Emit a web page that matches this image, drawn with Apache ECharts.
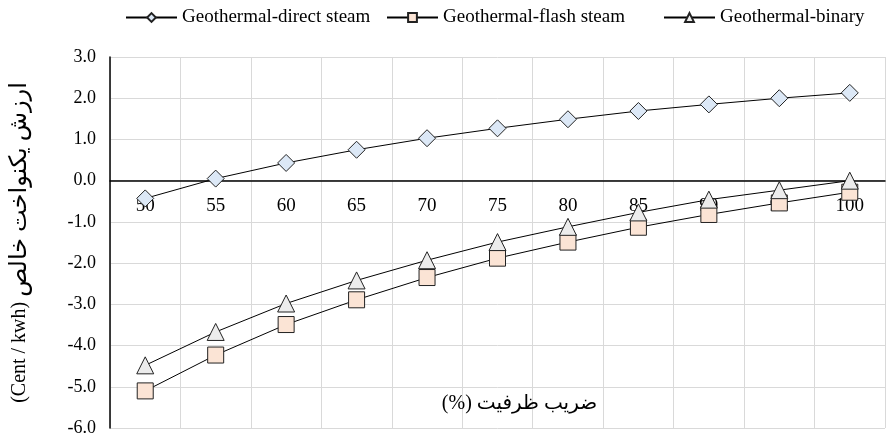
<!DOCTYPE html>
<html>
<head>
<meta charset="utf-8">
<script src="https://cdn.jsdelivr.net/npm/echarts@6/dist/echarts.min.js"></script>
<style>html,body{margin:0;padding:0;background:#fff}#c{width:886px;height:440px}</style>
</head>
<body>
<div id="c"></div>
<script>
var categories = ['50','55','60','65','70','75','80','85','90','95','100'];
var directSteam = [-0.43, 0.05, 0.43, 0.75, 1.03, 1.27, 1.49, 1.69, 1.85, 2.0, 2.13];
var flashSteam = [-5.1, -4.23, -3.49, -2.89, -2.35, -1.88, -1.49, -1.13, -0.82, -0.54, -0.28];
var binary = [-4.48, -3.67, -2.98, -2.42, -1.93, -1.49, -1.12, -0.77, -0.46, -0.23, 0.0];
var seriesNames = ['Geothermal-direct steam','Geothermal-flash steam','Geothermal-binary'];
var yNameLatin = '(Cent / kwh)';
var yNamePersian = 'ارزش یکنواخت خالص';
var xNameLatin = '(%)';
var xNamePersian = 'ضریب ظرفیت';

var FONT = "'Liberation Serif', 'DejaVu Sans', serif";
var chart = echarts.init(document.getElementById('c'), null, {renderer:'canvas'});
function mk(name, data, symbol, size, fill){
  return {
    name: name, type: 'line', data: data, symbol: symbol, symbolSize: size,
    lineStyle: {color: '#000', width: 1},
    itemStyle: {color: fill, borderColor: '#222', borderWidth: 1},
    emphasis: {disabled: true}, animation: false
  };
}
function lg(name, left){
  return {
    left: left, top: 3, itemWidth: 51, itemHeight: 11, itemGap: 0,
    textStyle: {fontFamily: FONT, fontSize: 19, color: '#000'},
    data: [name], selectedMode: false
  };
}
chart.setOption({
  animation: false,
  textStyle: {fontFamily: FONT},
  legend: [lg(seriesNames[0], 120), lg(seriesNames[1], 381), lg(seriesNames[2], 658)],
  grid: {left: 110, right: 1, top: 57, bottom: 12, containLabel: false, outerBoundsMode: 'none'},
  xAxis: {
    type: 'category', data: categories, boundaryGap: true,
    offset: -247.33,
    axisLine: {onZero: false, lineStyle: {color: '#000', width: 1.5}},
    axisTick: {show: false},
    axisLabel: {fontFamily: FONT, fontSize: 19, color: '#000', margin: 16},
    splitLine: {show: true, lineStyle: {color: '#d9d9d9', width: 1}},
    name: '{a|' + xNameLatin + '} {b|' + xNamePersian + '}',
    nameLocation: 'middle', nameGap: 213,
    nameTextStyle: {fontFamily: FONT, fontSize: 20, color: '#000', padding: [0,0,0,44],
      rich: {a: {fontFamily: FONT, fontSize: 20, color: '#000'}, b: {fontFamily: FONT, fontSize: 20, color: '#000'}}}
  },
  yAxis: {
    type: 'value', min: -6, max: 3, interval: 1,
    axisLine: {show: true, onZero: false, lineStyle: {color: '#000', width: 1.5}},
    axisTick: {show: false},
    axisLabel: {fontFamily: FONT, fontSize: 18, color: '#000', margin: 14,
      formatter: function(v){ return v.toFixed(1); }},
    splitLine: {show: true, lineStyle: {color: '#d9d9d9', width: 1}},
    name: '{a|' + yNameLatin + '} {b|' + yNamePersian + '}',
    nameLocation: 'middle', nameGap: 78, nameRotate: 90,
    nameTextStyle: {fontFamily: FONT, fontSize: 20, color: '#000',
      rich: {a: {fontFamily: FONT, fontSize: 20, color: '#000'}, b: {fontFamily: FONT, fontSize: 24, color: '#000'}}}
  },
  series: [
    mk(seriesNames[0], directSteam, 'diamond', 17, '#dce8f6'),
    mk(seriesNames[1], flashSteam, 'rect', 16, '#fbe4d5'),
    mk(seriesNames[2], binary, 'triangle', 17, '#ececec')
  ]
});
</script>
</body>
</html>
